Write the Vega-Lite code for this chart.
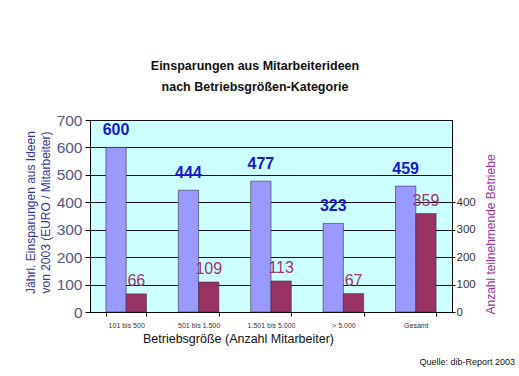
{
  "$schema": "https://vega.github.io/schema/vega-lite/v6.json",
  "autosize": "none",
  "width": 362,
  "height": 192,
  "padding": {"left": 90, "top": 120, "right": 67, "bottom": 64},
  "background": "white",
  "title": {
    "text": ["Einsparungen aus Mitarbeiterideen", "nach Betriebsgrößen-Kategorie"],
    "font": "Liberation Sans",
    "fontSize": 12.5,
    "fontWeight": "bold",
    "color": "#111111",
    "lineHeight": 21,
    "anchor": "middle",
    "dx": -16,
    "offset": 20
  },
  "config": {
    "view": {"fill": "#ccffff", "stroke": "#000000", "strokeWidth": 1}
  },
  "data": {
    "values": [
      {"kat": "101 bis 500", "serie": "Einsparung", "wert": 600},
      {"kat": "501 bis 1.500", "serie": "Einsparung", "wert": 444},
      {"kat": "1.501 bis 5.000", "serie": "Einsparung", "wert": 477},
      {"kat": "> 5.000", "serie": "Einsparung", "wert": 323},
      {"kat": "Gesamt", "serie": "Einsparung", "wert": 459},
      {"kat": "101 bis 500", "serie": "Betriebe", "wert": 66},
      {"kat": "501 bis 1.500", "serie": "Betriebe", "wert": 109},
      {"kat": "1.501 bis 5.000", "serie": "Betriebe", "wert": 113},
      {"kat": "> 5.000", "serie": "Betriebe", "wert": 67},
      {"kat": "Gesamt", "serie": "Betriebe", "wert": 359}
    ]
  },
  "encoding": {
    "x": {
      "field": "kat", "type": "nominal", "sort": null,
      "scale": {"paddingInner": 0.44, "paddingOuter": 0.22}
    },
    "xOffset": {"field": "serie", "type": "nominal", "sort": ["Einsparung", "Betriebe"]},
    "y": {"field": "wert", "type": "quantitative", "scale": {"domain": [0, 700], "nice": false}}
  },
  "layer": [
    {
      "mark": {"type": "bar", "stroke": "#333333", "strokeWidth": 0.6},
      "encoding": {
        "x": {
          "field": "kat", "type": "nominal", "sort": null,
          "axis": {
            "orient": "bottom",
            "title": "Betriebsgröße (Anzahl Mitarbeiter)",
            "titleFont": "Liberation Sans",
            "titleFontSize": 12.5,
            "titleFontWeight": "normal",
            "titleColor": "#111111",
            "titleX": 148,
            "titleY": 30,
            "titleBaseline": "alphabetic",
            "labelAngle": 0,
            "labelFont": "Liberation Sans",
            "labelFontSize": 7,
            "labelColor": "#333333",
            "labelPadding": 5,
            "tickBand": "extent",
            "tickSize": 4,
            "tickColor": "#000000",
            "domainColor": "#000000",
            "grid": false
          }
        },
        "y": {
          "field": "wert", "type": "quantitative",
          "axis": {
            "values": [0, 100, 200, 300, 400, 500, 600, 700],
            "title": ["Jährl. Einsparungen aus Ideen", "von 2003 (EURO / Mitarbeiter)"],
            "titleFont": "Liberation Sans",
            "titleFontSize": 12,
            "titleFontWeight": "normal",
            "titleColor": "#333399",
            "titleLineHeight": 15,
            "titleX": -65,
            "titleY": 92,
            "titleBaseline": "top",
            "labelFont": "Liberation Sans",
            "labelFontSize": 15.5,
            "labelColor": "#555580",
            "labelPadding": 3,
            "tickSize": 5,
            "tickColor": "#000000",
            "domainColor": "#000000",
            "grid": true,
            "gridColor": "#111111",
            "gridOpacity": 1
          }
        },
        "color": {
          "field": "serie", "type": "nominal",
          "scale": {"domain": ["Einsparung", "Betriebe"], "range": ["#9999ff", "#993366"]},
          "legend": null
        }
      }
    },
    {
      "transform": [{"filter": "datum.serie === 'Einsparung'"}],
      "mark": {"type": "text", "baseline": "alphabetic", "dy": -12, "font": "Liberation Sans", "fontSize": 16, "fontWeight": "bold", "color": "#1a1acc"},
      "encoding": {
        "x": {"field": "kat", "type": "nominal", "sort": null, "axis": null},
        "y": {"field": "wert", "type": "quantitative", "axis": null},
        "text": {"field": "wert", "type": "quantitative"}
      }
    },
    {
      "transform": [{"filter": "datum.serie === 'Betriebe'"}],
      "mark": {"type": "text", "baseline": "alphabetic", "dy": -8, "font": "Liberation Sans", "fontSize": 16, "color": "#993377"},
      "encoding": {
        "x": {
          "field": "kat", "type": "nominal", "sort": null,
          "axis": {
            "orient": "bottom",
            "title": "Quelle: dib-Report 2003",
            "titleFont": "Liberation Sans",
            "titleFontSize": 9,
            "titleFontWeight": "normal",
            "titleColor": "#111111",
            "titleAlign": "left",
            "titleAnchor": "start",
            "titleX": 329,
            "titleY": 52,
            "titleBaseline": "alphabetic",
            "labels": false,
            "ticks": false,
            "domain": false,
            "grid": false
          }
        },
        "y": {
          "field": "wert", "type": "quantitative",
          "axis": {
            "orient": "right",
            "values": [0, 100, 200, 300, 400],
            "title": "Anzahl teilnehmende Betriebe",
            "titleAngle": 270,
            "titleFont": "Liberation Sans",
            "titleFontSize": 12,
            "titleFontWeight": "normal",
            "titleColor": "#993399",
            "titleX": 38,
            "titleY": 114,
            "titleBaseline": "middle",
            "labelFont": "Liberation Sans",
            "labelFontSize": 11.5,
            "labelColor": "#333333",
            "labelPadding": 1,
            "tickSize": 3,
            "tickColor": "#000000",
            "domainColor": "#000000",
            "grid": false,
            "labelExpr": "datum.value === 0 ? '\u00a0\u00a0\u00a0\u00a0\u00a00' : datum.label"
          }
        },
        "text": {"field": "wert", "type": "quantitative"}
      }
    }
  ],
  "resolve": {"axis": {"x": "independent", "y": "independent"}}
}
